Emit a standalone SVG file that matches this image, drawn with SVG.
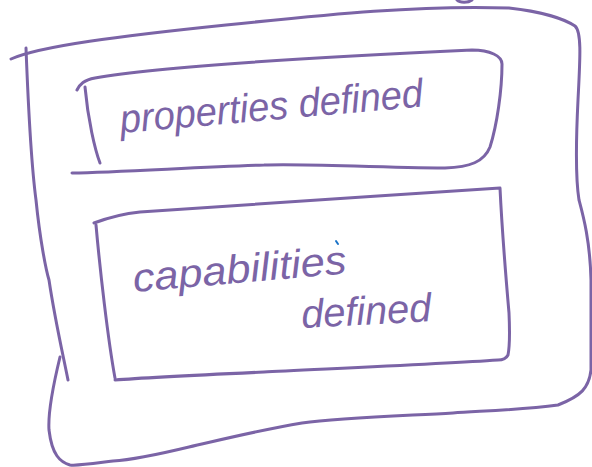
<svg xmlns="http://www.w3.org/2000/svg" width="592" height="467" viewBox="0 0 592 467">
<style>
.ink{fill:none;stroke:#7b64a6;stroke-width:3;stroke-linecap:round;stroke-linejoin:round}
.hand{font-family:"Liberation Sans","DejaVu Sans",sans-serif;font-style:italic;fill:#7b64a6}
</style>
<rect width="592" height="467" fill="#ffffff"/>
<g id="outer">
<path class="ink" d="M11,59 C40,46 120,36 226,25 S420,5 509,8 C545,12 566,20 575,26 C582,32 580,60 578,100 C576,140 575,175 579,200 C583,215 590,240 591,280 L591,370 C589,388 581,396 558,405 C520,410 480,411 453,413 C400,416 340,418 302,423 C260,430 220,440 189,447 C160,454 130,460 113,461 C90,464 78,466 70,465 C60,462 52,455 49,430 C48,415 52,390 60,357"/>
<path class="ink" d="M26,48 C28,100 32,170 36,200 C40,240 46,270 49,280 C55,320 62,350 68,380"/>
<path class="ink" d="M457,0 C460,3 468,3 472,0"/>
</g>
<g id="properties">
<path class="ink" d="M77,90 C80,84 84,80 95,78 C150,68 300,58 472,50 C490,50 502,56 502,64 C502,90 497,125 490,147 C484,162 470,167 445,168 C380,168 300,163 264,165 C200,167 120,172 72,173"/>
<path class="ink" d="M85,87 C88,120 95,150 100,163"/>
<text class="hand" x="121" y="133" font-size="40" textLength="304" lengthAdjust="spacingAndGlyphs" transform="rotate(-5 121 133)">properties defined</text>
</g>
<g id="capabilities">
<path class="ink" d="M94,223 C110,217 130,213 140,212 C250,204 380,196 500,188 C502,230 507,290 509,313 C510,335 509,350 508,355 C506,359 502,360 498,360 C440,364 300,370 264,372 C200,375 140,378 115,380"/>
<path class="ink" d="M96,225 C100,270 108,340 115,378"/>
<text class="hand" x="134" y="292" font-size="40" textLength="214" lengthAdjust="spacingAndGlyphs" transform="rotate(-5 134 292)">capabilities</text>
<text class="hand" x="302" y="328" font-size="40" textLength="130" lengthAdjust="spacingAndGlyphs" transform="rotate(-3 302 328)">defined</text>
<path d="M336,241 L338,244" fill="none" stroke="#1a73c8" stroke-width="2" stroke-linecap="round"/>
</g>
</svg>
